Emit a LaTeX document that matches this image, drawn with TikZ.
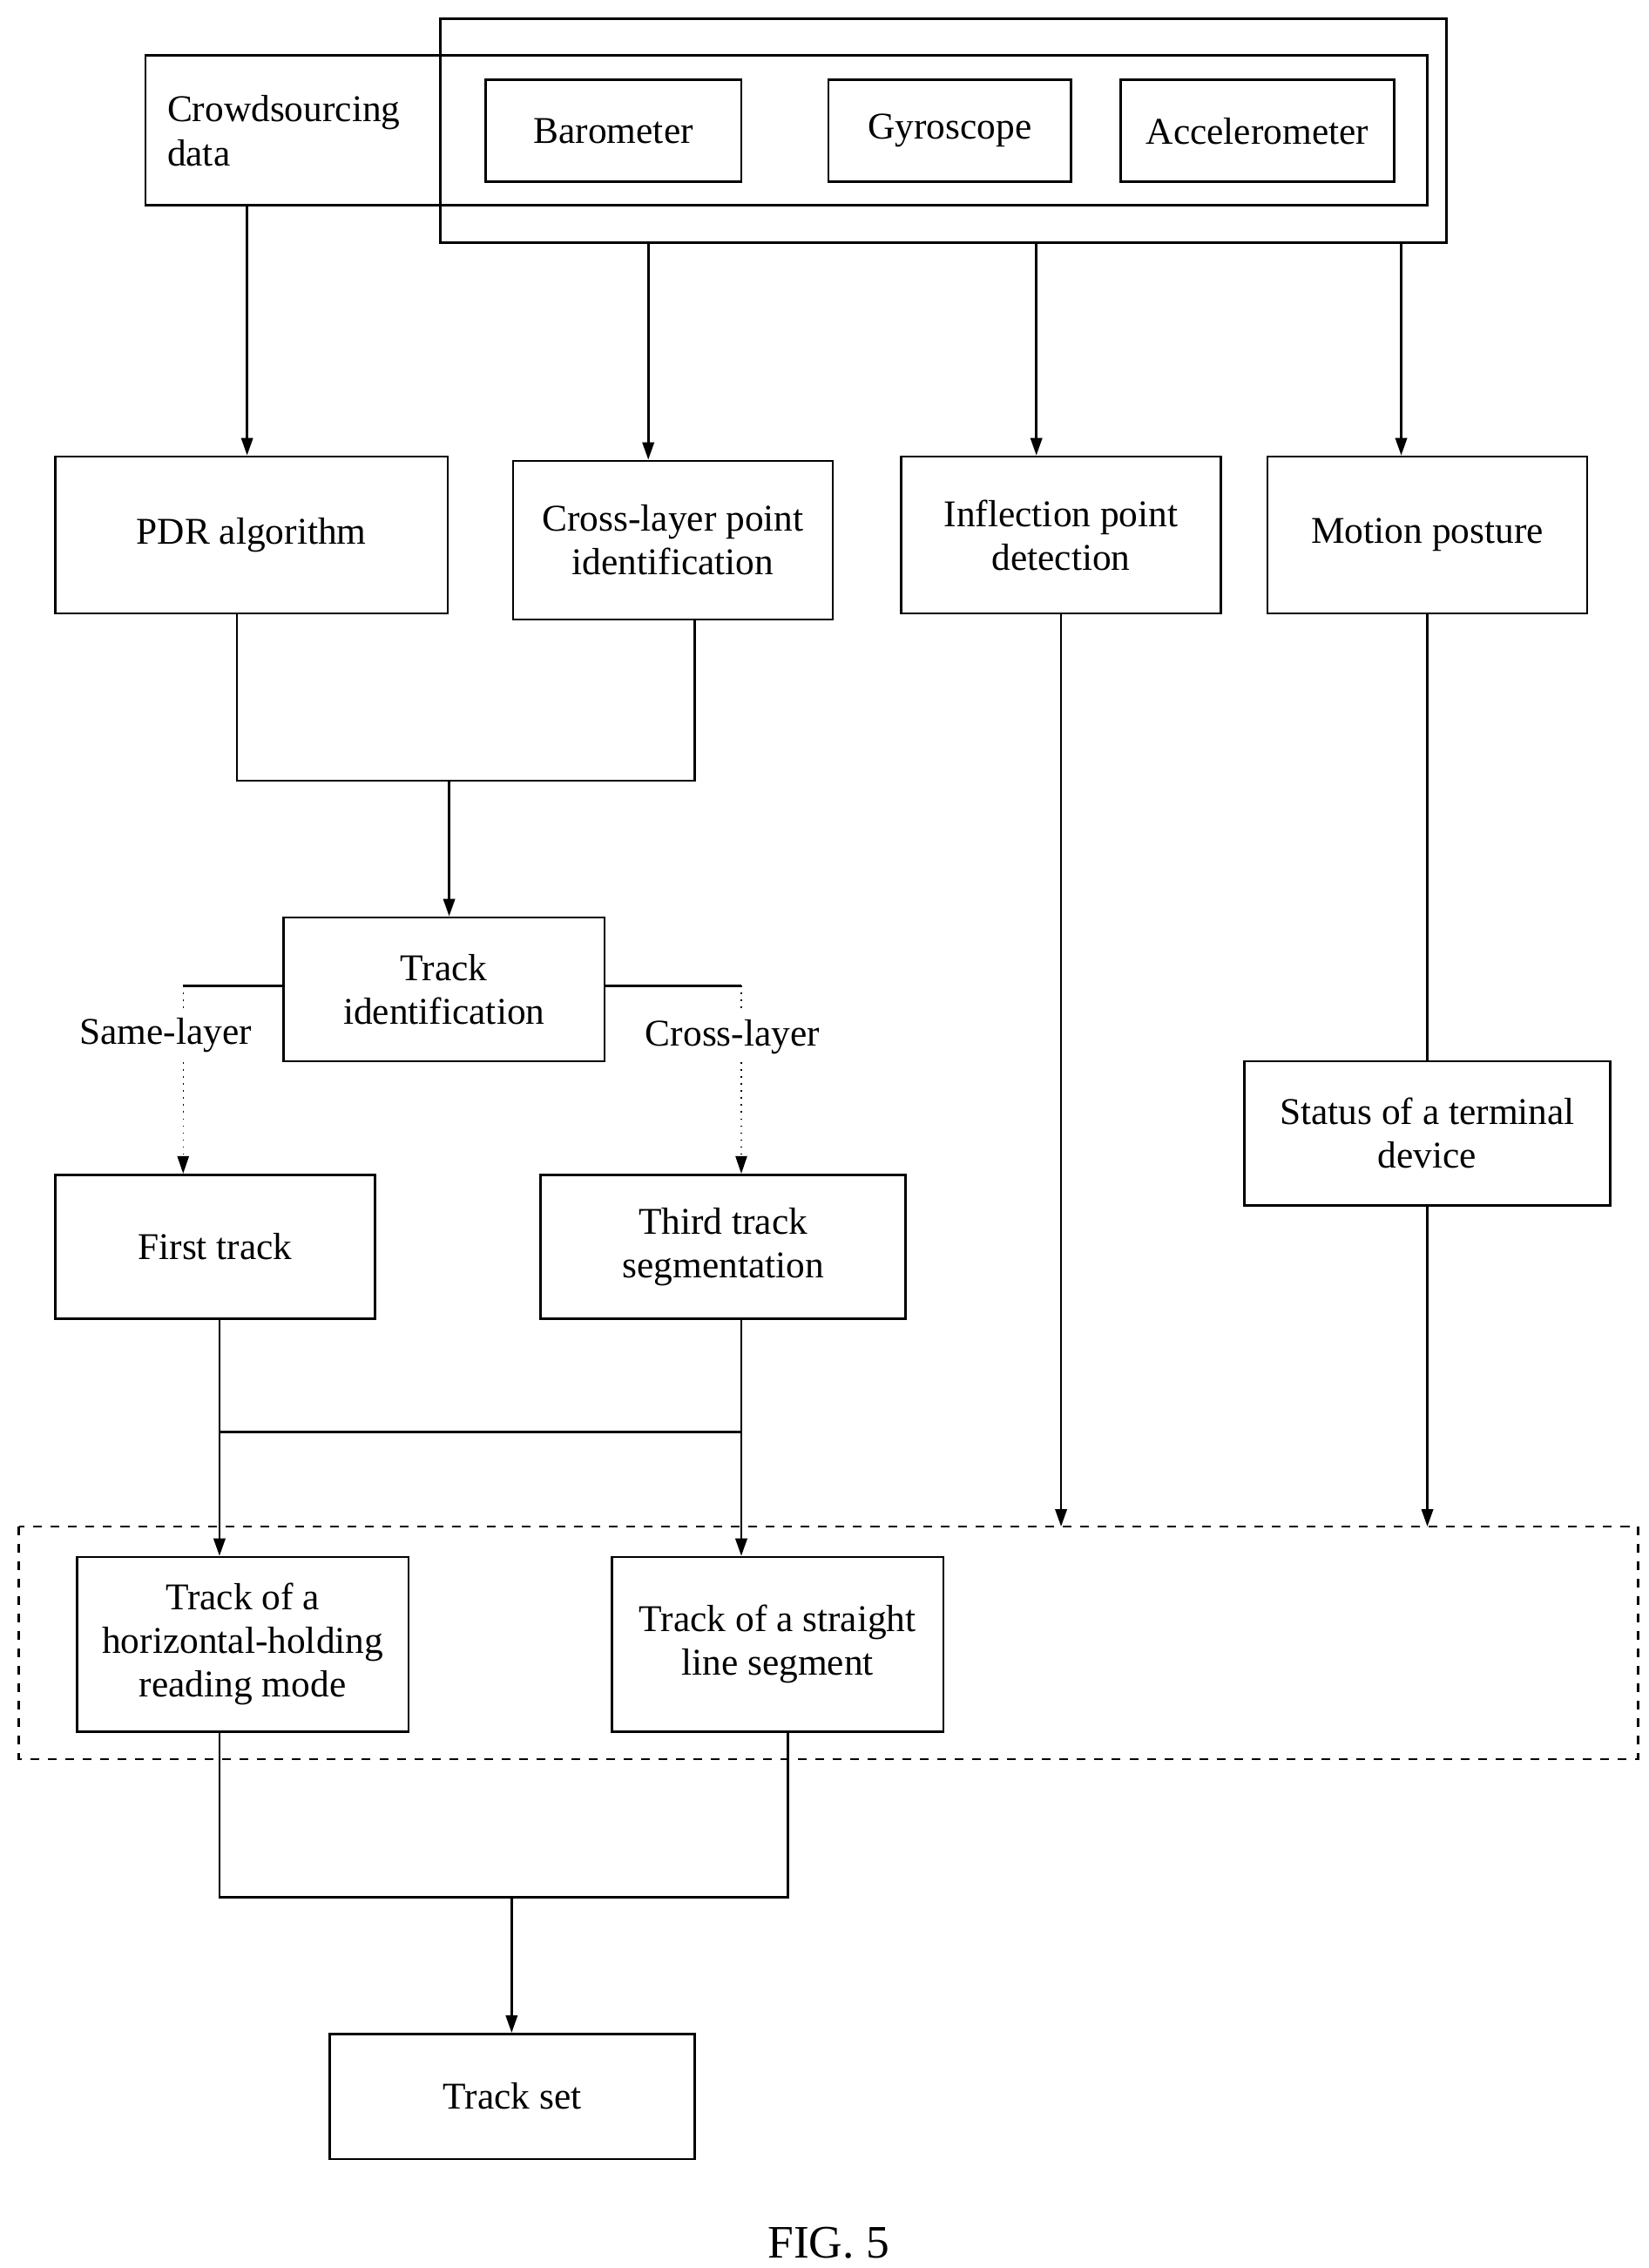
\documentclass[tikz,border=0pt]{standalone}
\usepackage{fontspec}
\setmainfont{Liberation Serif}
\usetikzlibrary{arrows.meta, positioning}
\begin{document}
\begin{tikzpicture}[x=0.5pt, y=-0.5pt,
        box/.style={draw, line width=0.8pt, align=center, font=\fontsize{13}{15}\selectfont, inner sep=0pt},
        lbl/.style={fill=white, font=\fontsize{13}{15}\selectfont, inner sep=2pt},
        line/.style={line width=0.8pt},
        arr/.style={line width=0.8pt, -{Triangle[length=6pt, width=4pt]}},
        thin arr/.style={line width=0.4pt, dotted, -{Triangle[length=6pt, width=4pt]}}
    ]
        \useasboundingbox (0,0) rectangle (1134,1560);
        % Sensor boxes
        \draw[line] (303,13) rectangle (995,167);
        \node[box, minimum width=882pt*0.5, minimum height=103pt*0.5] (crowd) at (541,89.5) {};
        \node[font=\fontsize{13}{15}\selectfont, align=left, anchor=west] (crowdtext) at (108,90) {Crowdsourcing\\data};
        \node[box, minimum width=88pt, minimum height=35pt] (baro) at (422,90) {Barometer};
        \node[box, minimum width=83.5pt, minimum height=35pt] (gyro) at (653.5,90) {Gyroscope};
        \node[box, minimum width=94pt, minimum height=35pt] (acc) at (865,90) {Accelerometer};
        \coordinate (sensors) at (649,167);

        % Second row
        \node[box, minimum width=135pt, minimum height=54pt] (pdr) at (173,368) {PDR algorithm};
        \node[box, minimum width=110pt, minimum height=54.5pt] (cross) at (463,371.5) {Cross-layer point\\identification};
        \node[box, minimum width=110pt, minimum height=54pt] (infl) at (730,368) {Inflection point\\detection};
        \node[box, minimum width=110pt, minimum height=54pt] (motion) at (982,368) {Motion posture};

        % Middle
        \node[box, minimum width=110.5pt, minimum height=49.5pt] (trackid) at (305.5,680.5) {Track\\identification};
        \node[box, minimum width=110pt, minimum height=49.5pt] (first) at (148,857.5) {First track};
        \node[box, minimum width=125.5pt, minimum height=49.5pt] (third) at (497.5,857.5) {Third track\\segmentation};
        \node[box, minimum width=126pt, minimum height=49.5pt] (status) at (982,779.5) {Status of a terminal\\device};

        % Dashed region
        \draw[line, dashed] (13,1050) rectangle (1127,1210);
        \node[box, minimum width=114pt, minimum height=60pt] (horiz) at (167,1131) {Track of a\\horizontal-holding\\reading mode};
        \node[box, minimum width=114pt, minimum height=60pt] (straight) at (535,1131) {Track of a straight\\line segment};
        \node[box, minimum width=125.5pt, minimum height=43pt] (set) at (352.5,1442) {Track set};

        \node[font=\fontsize{16}{18}\selectfont] (fig) at (570,1543) {FIG. 5};

        % Connections
        \draw[arr] (170,141) -- (pdr.north -| 170,0);
        \draw[arr] (446,167) -- (cross.north -| 446,0);
        \draw[arr] (713,167) -- (infl.north -| 713,0);
        \draw[arr] (964,167) -- (motion.north -| 964,0);
        \draw[line] (pdr.south -| 163,0) -- (163,537) -- (478,537) -- (cross.south -| 478,0);
        \draw[arr] (309,537) -- (trackid.north -| 309,0);
        \draw[line] (trackid.west |- 0,678) -- (126,678);
        \draw[thin arr] (126,678) -- (first.north -| 126,0);
        \node[lbl] (same) at (114,712) {Same-layer};
        \draw[line] (trackid.east |- 0,678) -- (510,678);
        \draw[thin arr] (510,678) -- (third.north -| 510,0);
        \node[lbl] (crossl) at (504,713) {Cross-layer};
        \draw[line] (motion.south) -- (status.north);
        \draw[arr] (status.south) -- (982,1050);
        \draw[arr] (infl.south) -- (730,1050);
        \draw[line] (151,985) -- (510,985);
        \draw[arr] (first.south -| 151,0) -- (horiz.north -| 151,0);
        \draw[arr] (third.south -| 510,0) -- (straight.north -| 510,0);
        \draw[line] (horiz.south -| 151,0) -- (151,1305) -- (542,1305) -- (straight.south -| 542,0);
        \draw[arr] (352,1305) -- (set.north -| 352,0);
\end{tikzpicture}
\end{document}
